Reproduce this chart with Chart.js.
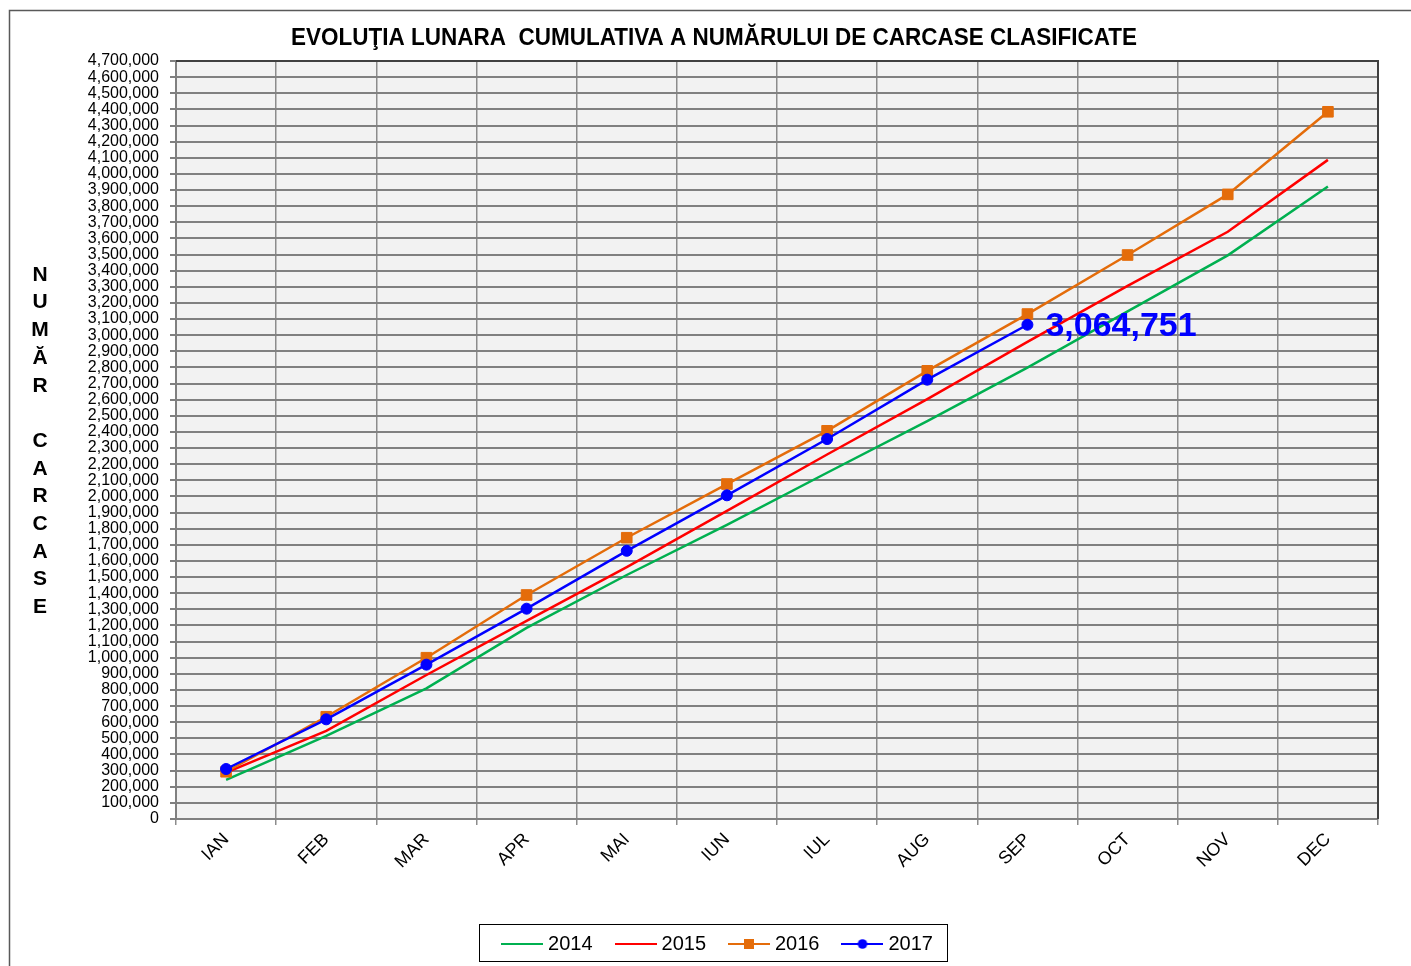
<!DOCTYPE html>
<html><head><meta charset="utf-8">
<script src="https://cdn.jsdelivr.net/npm/chart.js@4.4.0/dist/chart.umd.min.js"></script>
<style>html,body{margin:0;padding:0;background:#fff;overflow:hidden}</style>
</head><body>
<canvas id="c" width="1411" height="966"></canvas>
<script>
// ---- data ----
const categories = ['IAN','FEB','MAR','APR','MAI','IUN','IUL','AUG','SEP','OCT','NOV','DEC'];
const seriesLabels = ['2014','2015','2016','2017'];
const s2014 = [242000, 515000, 810000, 1185000, 1513000, 1823000, 2147000, 2467000, 2799000, 3147000, 3495000, 3922000];
const s2015 = [287000, 547000, 893000, 1228000, 1562000, 1911000, 2260000, 2604000, 2958000, 3306000, 3641000, 4087000];
const s2016 = [293000, 634000, 1000000, 1389000, 1744000, 2077000, 2407000, 2779000, 3131000, 3497000, 3873000, 4385000];
const s2017 = [310000, 618000, 957000, 1304000, 1663000, 2007000, 2356000, 2724000, 3064751, null, null, null];
const yMin = 0, yMax = 4700000, yStep = 100000;
const chartTitle = 'EVOLUŢIA LUNARA  CUMULATIVA A NUMĂRULUI DE CARCASE CLASIFICATE';
const yTitle = ['N','U','M','Ă','R','','C','A','R','C','A','S','E'];
const lastValueLabel = '3,064,751';

const FONT = "'Liberation Sans', Arial, Helvetica, sans-serif";
const colors = ['#00B050', '#FF0000', '#E46C0A', '#0000FF'];
const markers = [null, null, 'rect', 'circle'];

function legendImg(color, marker) {
  const c = document.createElement('canvas');
  c.width = 42; c.height = 14;
  const g = c.getContext('2d');
  g.strokeStyle = color; g.lineWidth = 2;
  g.beginPath(); g.moveTo(0, 7); g.lineTo(42, 7); g.stroke();
  g.fillStyle = color;
  if (marker === 'rect') g.fillRect(16, 2, 10, 10);
  if (marker === 'circle') { g.beginPath(); g.arc(21, 7, 4.8, 0, Math.PI * 2); g.fill(); }
  return c;
}
const legendImgs = colors.map((c, i) => legendImg(c, markers[i]));

const decor = {
  id: 'decor',
  beforeDraw(chart) {
    const {ctx, chartArea: a} = chart;
    ctx.save();
    ctx.fillStyle = '#F2F2F2';
    ctx.fillRect(a.left, a.top, a.right - a.left, a.bottom - a.top);
    ctx.restore();
  },
  afterDraw(chart) {
    const {ctx, chartArea: a} = chart;
    ctx.save();
    // outer frame (left and top edges visible)
    ctx.strokeStyle = '#595959'; ctx.lineWidth = 1.5;
    ctx.beginPath();
    ctx.moveTo(9.5, 1000); ctx.lineTo(9.5, 10.5); ctx.lineTo(1420, 10.5);
    ctx.stroke();
    // plot top/right edge
    ctx.strokeStyle = '#404040'; ctx.lineWidth = 2;
    ctx.beginPath();
    ctx.moveTo(a.left, a.top); ctx.lineTo(a.right, a.top); ctx.lineTo(a.right, a.bottom);
    ctx.stroke();
    // title (condensed bold)
    ctx.fillStyle = '#000';
    ctx.font = 'bold 23px ' + FONT;
    ctx.textBaseline = 'middle'; ctx.textAlign = 'left';
    const w = ctx.measureText(chartTitle).width;
    const target = 846;
    ctx.save();
    ctx.translate(291, 39);
    ctx.scale(target / w, 1);
    ctx.fillText(chartTitle, 0, 0);
    ctx.restore();
    // vertical y title
    ctx.font = 'bold 21px ' + FONT;
    ctx.textAlign = 'center';
    yTitle.forEach((ch, i) => { if (ch) ctx.fillText(ch, 40, 275 + i * 27.7); });
    // legend frame
    const lg = chart.legend;
    if (lg && lg.legendHitBoxes && lg.legendHitBoxes.length) {
      const hb = lg.legendHitBoxes;
      const first = hb[0], last = hb[hb.length - 1];
      const cy = first.top + first.height / 2;
      ctx.strokeStyle = '#000'; ctx.lineWidth = 1;
      const x0 = Math.round(first.left - 27) + 0.5;
      const x1 = Math.round(last.left + last.width + 14) + 0.5;
      const y0 = Math.round(cy - 20) + 0.5;
      const y1 = Math.round(cy + 17) + 0.5;
      ctx.strokeRect(x0, y0, x1 - x0, y1 - y0);
    }
    ctx.restore();
  },
  afterDatasetsDraw(chart) {
    const meta = chart.getDatasetMeta(3);
    const idx = s2017.findIndex(v => v === 3064751);
    const pt = meta.data[idx];
    if (!pt) return;
    const {ctx} = chart;
    ctx.save();
    ctx.fillStyle = '#0000FF';
    ctx.font = 'bold 34px ' + FONT;
    ctx.textAlign = 'left'; ctx.textBaseline = 'middle';
    ctx.fillText(lastValueLabel, pt.x + 18, pt.y + 2);
    ctx.restore();
  }
};

const allSeries = [s2014, s2015, s2016, s2017];
const datasets = allSeries.map((d, i) => ({
  label: seriesLabels[i],
  data: d,
  borderColor: colors[i],
  backgroundColor: colors[i],
  borderWidth: 2.5,
  tension: 0,
  pointStyle: markers[i] || 'circle',
  pointRadius: markers[i] === 'rect' ? 7.5 : (markers[i] === 'circle' ? 5.5 : 0),
  pointHoverRadius: 0,
  pointBorderWidth: 1,
  pointBackgroundColor: colors[i],
  pointBorderColor: colors[i],
  order: 4 - i,
  spanGaps: false
}));

new Chart(document.getElementById('c'), {
  type: 'line',
  data: { labels: categories, datasets },
  options: {
    responsive: false,
    animation: false,
    events: [],
    layout: { padding: { left: 61, right: 33, top: 61, bottom: 2 } },
    plugins: {
      title: { display: false },
      tooltip: { enabled: false },
      legend: {
        display: true,
        position: 'bottom',
        align: 'center',
        labels: {
          usePointStyle: true,
          pointStyleWidth: 32,
          padding: 27,
          color: '#000',
          font: { family: FONT, size: 20 },
          sort: (a, b) => a.datasetIndex - b.datasetIndex,
          generateLabels(chart) {
            const items = Chart.defaults.plugins.legend.labels.generateLabels(chart);
            items.forEach(it => { it.pointStyle = legendImgs[it.datasetIndex]; });
            return items;
          }
        }
      }
    },
    scales: {
      x: {
        type: 'category',
        offset: true,
        afterFit(s) { s.height = 88; },
        grid: { display: true, offset: true, color: '#8C8C8C', lineWidth: 1.5, tickLength: 6, drawTicks: true },
        border: { display: true, color: '#808080', width: 2 },
        ticks: {
          color: '#000', font: { family: FONT, size: 18 },
          maxRotation: 45, minRotation: 45, autoSkip: false, padding: 4
        }
      },
      y: {
        min: yMin, max: yMax,
        afterFit(s) { s.width = 115; },
        grid: { color: '#808080', lineWidth: 2, tickLength: 6, drawTicks: true },
        border: { display: true, color: '#808080', width: 2 },
        ticks: {
          stepSize: yStep, autoSkip: false, color: '#000',
          font: { family: FONT, size: 16 }, padding: 11,
          callback: v => Number(v).toLocaleString('en-US')
        }
      }
    }
  },
  plugins: [decor]
});
</script>
</body></html>
